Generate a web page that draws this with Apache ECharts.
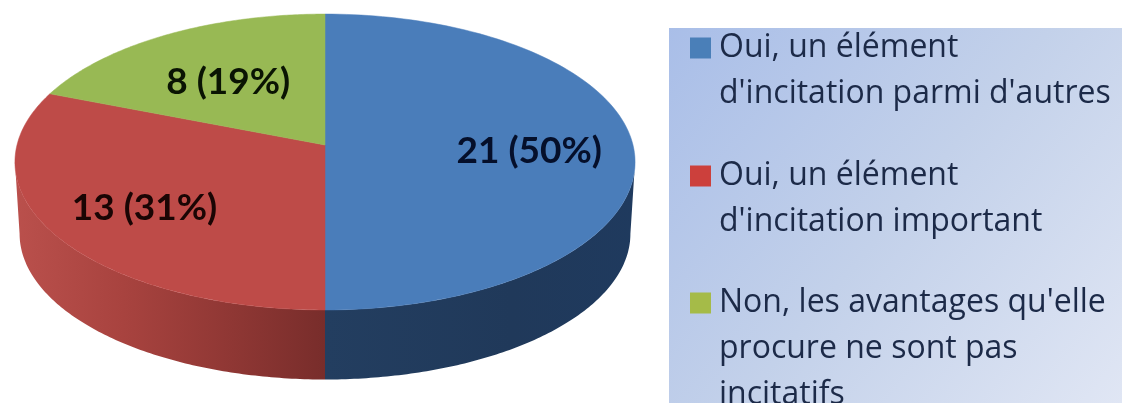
<!DOCTYPE html>
<html><head><meta charset="utf-8">
<style>html,body{margin:0;padding:0;background:#fff}#c{width:1122px;height:403px}</style>
<script src="https://cdn.jsdelivr.net/npm/echarts@6/dist/echarts.min.js"></script>
</head><body><div id="c"></div>
<script>
var categories = ["Oui, un élément\nd'incitation parmi d'autres", "Oui, un élément\nd'incitation important", "Non, les avantages qu'elle\nprocure ne sont pas\nincitatifs"];
var values = [21, 13, 8];
var topColors = ['#4a7dba', '#be4b48', '#98b954'];
var legendColors = ['#4a7fb8', '#cc403c', '#a5bb48'];
var labelColors = ['#050f2a', '#1a0504', '#0a1403'];

var total = values.reduce(function (a, b) { return a + b; }, 0);
var APEX = [325, 145], A = 146, B = 308, K = 0.115, DEPTH = 72, BOTTOM_SCALE = 0.985;
var labelShiftX = [1, -5, 11], labelShiftY = [0, 0, 6];

function project(t, r, scale, dy) {
  var X = Math.sin(t) * r, Y = Math.cos(t) * r, w = 1 + K * Y;
  return [APEX[0] + X * B * scale / w, APEX[1] - Y * A * scale / w + dy];
}
function arc(t0, t1, scale, dy) {
  var pts = [], n = 120;
  for (var i = 0; i <= n; i++) pts.push(project(t0 + (t1 - t0) * i / n, 1, scale, dy));
  return pts;
}
function wallFill(i) {
  return i === 0
    ? new echarts.graphic.LinearGradient(0, 0, 1, 0, [{offset: 0, color: '#233e60'}, {offset: 0.6, color: '#20395a'}, {offset: 1, color: '#1f3a5e'}])
    : new echarts.graphic.LinearGradient(0, 0, 1, 0, [{offset: 0, color: '#ba504c'}, {offset: 0.35, color: '#a8433f'}, {offset: 0.7, color: '#8f3734'}, {offset: 1, color: '#782d2b'}]);
}
function makeRender(i) {
  return function (params, api) {
    var before = 0;
    for (var j = 0; j < i; j++) before += values[j];
    var t0 = before / total * 2 * Math.PI;
    var t1 = (before + api.value(0)) / total * 2 * Math.PI;
    var children = [];
    var wStart = Math.max(t0, Math.acos(-K)), wEnd = Math.min(t1, 2 * Math.PI - Math.acos(-K));
    if (wEnd > wStart) {
      var wall = arc(wStart, wEnd, 1, 0).concat(arc(wStart, wEnd, BOTTOM_SCALE, DEPTH).reverse());
      children.push({type: 'polygon', shape: {points: wall}, style: {fill: wallFill(i)}});
    }
    children.push({type: 'polygon', shape: {points: [APEX].concat(arc(t0, t1, 1, 0))},
      style: {fill: topColors[i], stroke: topColors[i], lineWidth: 0.5}});
    var mid = project((t0 + t1) / 2, 0.66, 1, 6);
    children.push({type: 'text', z2: 10, style: {
      x: mid[0] + labelShiftX[i], y: mid[1] + labelShiftY[i], align: 'center', verticalAlign: 'middle',
      text: values[i] + ' (' + Math.round(values[i] / total * 100) + '%)',
      font: 'bold 37px Lato', fill: labelColors[i]}});
    return {type: 'group', children: children};
  };
}
var LINE = 46, swatchCentres = [48, 176, 303];
var legends = categories.map(function (name, i) {
  var lines = name.split('\n').length;
  return {
    data: [{name: name, icon: 'rect', itemStyle: {color: legendColors[i]}}],
    formatter: function (n) { return new Array(lines).join('\n') + n; },
    orient: 'vertical', left: 690, top: swatchCentres[i] - (2 * lines - 1) * LINE / 2,
    padding: 0, itemWidth: 21, itemHeight: 21, selectedMode: false,
    textStyle: {fontFamily: 'Open Sans', fontSize: 32, lineHeight: LINE, color: '#1c2a48', padding: [0, 0, 0, 3]}
  };
});
var chart = echarts.init(document.getElementById('c'), null, {renderer: 'canvas'});
chart.setOption({
  animation: false,
  backgroundColor: '#fff',
  tooltip: {show: false},
  legend: legends,
  graphic: [{type: 'rect', z: -1, silent: true, shape: {x: 669, y: 28, width: 453, height: 375},
    style: {fill: new echarts.graphic.LinearGradient(0, 0, 1, 1, [{offset: 0, color: '#a9bee8'}, {offset: 0.5, color: '#c3d1ea'}, {offset: 1, color: '#e0e6f4'}])}}],
  series: categories.map(function (name, i) {
    return {type: 'custom', name: name, coordinateSystem: 'none', silent: true, z: 3,
      itemStyle: {color: topColors[i]}, data: [[values[i]]], renderItem: makeRender(i)};
  })
});
</script></body></html>
